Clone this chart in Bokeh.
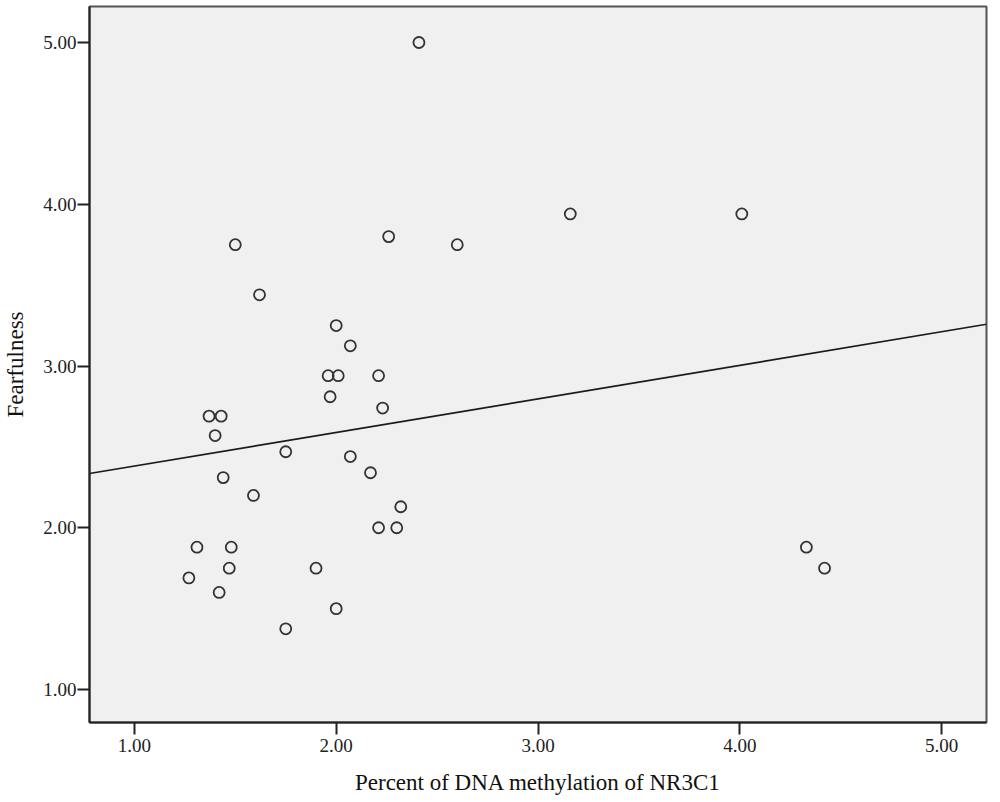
import numpy as np
from bokeh.plotting import figure
from bokeh.models import Range1d, FixedTicker, ColumnDataSource
from bokeh.embed import file_html
from bokeh.resources import INLINE

# --- data ---
methylation = [2.41, 3.16, 4.01, 1.50, 2.26, 2.60, 1.62, 2.00, 2.07, 1.96,
               2.01, 2.21, 1.97, 2.23, 1.37, 1.43, 1.40, 1.75, 2.07, 2.17,
               1.44, 1.59, 2.32, 2.21, 2.30, 1.31, 1.48, 4.33, 1.47, 1.90,
               4.42, 1.27, 1.42, 2.00, 1.75]
fearfulness = [5.00, 3.94, 3.94, 3.75, 3.80, 3.75, 3.44, 3.25, 3.125, 2.94,
               2.94, 2.94, 2.81, 2.74, 2.69, 2.69, 2.57, 2.47, 2.44, 2.34,
               2.31, 2.20, 2.13, 2.00, 2.00, 1.88, 1.88, 1.88, 1.75, 1.75,
               1.75, 1.69, 1.60, 1.50, 1.375]
fit_intercept = 2.174
fit_slope = 0.2075
x_ticks = [1, 2, 3, 4, 5]
y_ticks = [1, 2, 3, 4, 5]
x_title = "Percent of DNA methylation of NR3C1"
y_title = "Fearfulness"

x_lo, x_hi = 0.7775, 5.2225
y_lo, y_hi = 0.796, 5.2226

FONT = "Liberation Serif"

p = figure(width=990, height=802, output_backend="svg", toolbar_location=None,
           x_range=Range1d(x_lo, x_hi), y_range=Range1d(y_lo, y_hi),
           min_border_left=81, min_border_right=4, min_border_top=6,
           min_border_bottom=80)

p.background_fill_color = "#f0f0f0"
p.border_fill_color = "white"
p.outline_line_color = "#555555"
p.outline_line_width = 2
p.grid.visible = False

for ax in (p.xaxis[0], p.yaxis[0]):
    ax.axis_line_color = "#222222"
    ax.axis_line_width = 2
    ax.major_tick_line_color = "#222222"
    ax.major_tick_line_width = 2
    ax.major_tick_in = 0
    ax.major_tick_out = 12
    ax.minor_tick_line_color = None
    ax.major_label_text_font = FONT
    ax.major_label_text_font_size = "19px"
    ax.major_label_text_color = "#222222"
    ax.axis_label_text_font = FONT
    ax.axis_label_text_font_size = "23px"
    ax.axis_label_text_font_style = "normal"
    ax.axis_label_text_color = "#111111"

p.xaxis.ticker = FixedTicker(ticks=x_ticks)
p.yaxis.ticker = FixedTicker(ticks=y_ticks)
p.xaxis.major_label_overrides = {t: f"{t:.2f}" for t in x_ticks}
p.yaxis.major_label_overrides = {t: f"{t:.2f}" for t in y_ticks}
p.xaxis.major_label_standoff = 4
p.yaxis.major_label_standoff = 1
p.xaxis.axis_label = x_title
p.yaxis.axis_label = y_title
p.xaxis.axis_label_standoff = 15
p.yaxis.axis_label_standoff = 12

# regression line
fx = np.array([x_lo, x_hi])
fy = fit_intercept + fit_slope * fx
p.line(fx, fy, line_color="#1a1a1a", line_width=1.6)

src = ColumnDataSource(dict(x=methylation, y=fearfulness))
p.scatter("x", "y", source=src, marker="circle", size=11,
          fill_color=None, line_color="#333333", line_width=1.8)

open("out.html", "w").write(file_html(p, INLINE))
